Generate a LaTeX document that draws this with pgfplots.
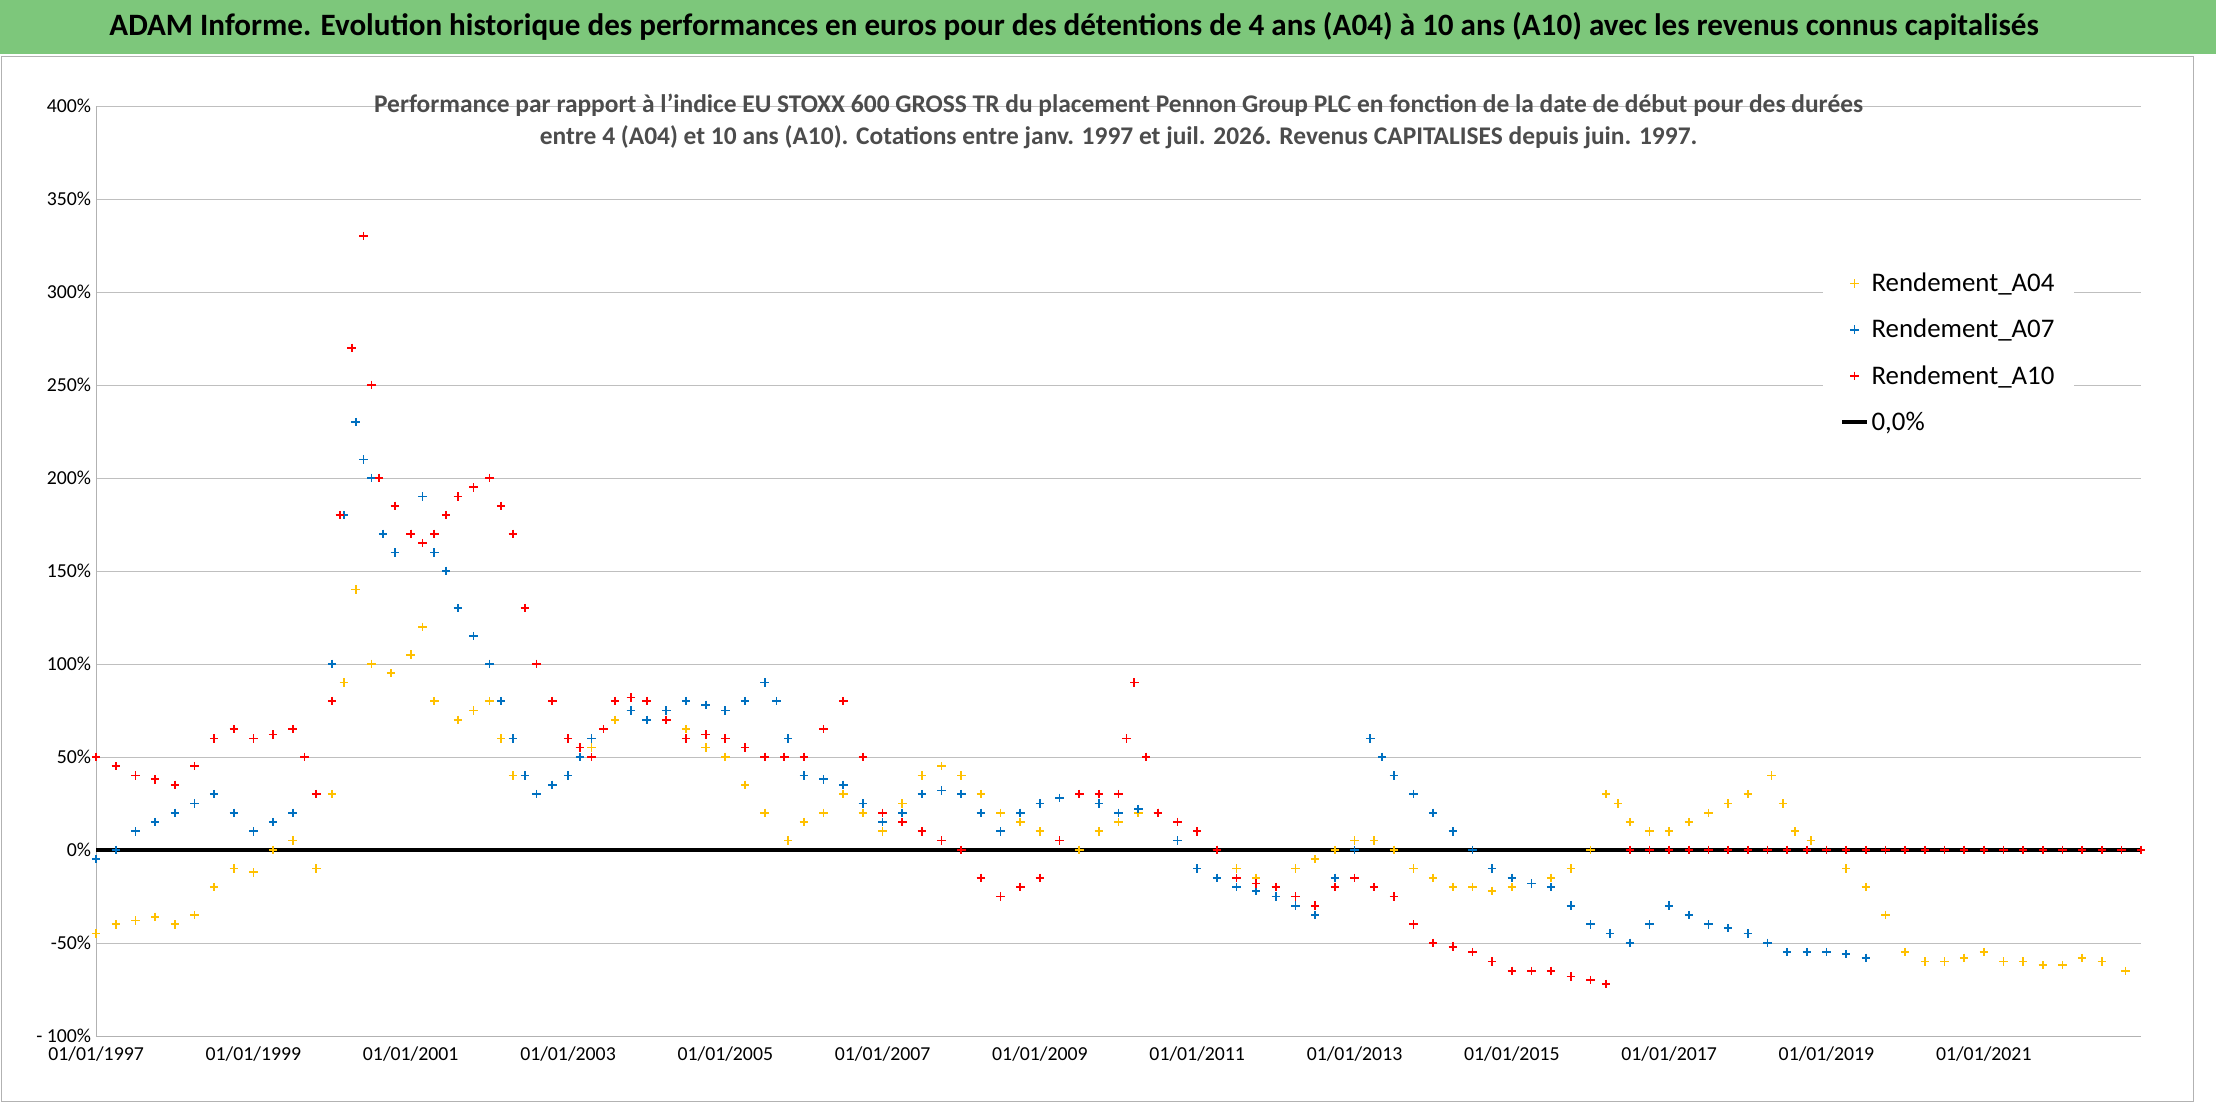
\documentclass[border=0pt]{standalone}
\usepackage{pgfplots}
\pgfplotsset{compat=1.18}
\usepackage{fontspec}
\setmainfont{Carlito}
\definecolor{ttl}{HTML}{7DC77B}
\definecolor{yel}{HTML}{FFC000}
\definecolor{blu}{HTML}{0070C0}
\definecolor{rd}{HTML}{FF0000}
\begin{document}
\begin{tikzpicture}[x=1pt,y=1pt]
\useasboundingbox (0,0) rectangle (1568,780);
\fill[ttl] (0,742) rectangle (1568,780);
\node[font=\fontsize{22}{26}\selectfont\bfseries] at (760,761) {ADAM Informe. Evolution historique des performances en euros pour des détentions de 4 ans (A04) à 10 ans (A10) avec les revenus connus capitalisés};
\draw[gray!60] (1,1) rectangle (1552,740);
\begin{axis}[at={(68pt,47pt)},anchor=south west,scale only axis,width=1447pt,height=658pt,
 xmin=1997,xmax=2023,ymin=-100,ymax=400,
 xtick={1997,1999,...,2021},
 xticklabels={01/01/1997,01/01/1999,01/01/2001,01/01/2003,01/01/2005,01/01/2007,01/01/2009,01/01/2011,01/01/2013,01/01/2015,01/01/2017,01/01/2019,01/01/2021},
 ytick={-100,-50,...,400},
 yticklabels={- 100\%,-50\%,0\%,50\%,100\%,150\%,200\%,250\%,300\%,350\%,400\%},
 ymajorgrids, grid style={gray!50},
 axis line style={gray!60}, tick style={draw=none},
 ticklabel style={font=\fontsize{14}{16}\selectfont},
 xticklabel style={yshift=-4pt},
 axis x line*=bottom, axis y line*=left,
 legend style={at={(1290pt-68pt,460pt-47pt)},anchor=south west,draw=none,fill=white,font=\fontsize{19}{22}\selectfont,row sep=14pt,inner sep=12pt},
 legend cell align=left,
 every axis plot/.append style={only marks,mark=+,mark size=3pt,line width=1.2pt},
 title style={font=\fontsize{18}{23}\selectfont\bfseries,color=black!70,align=center,yshift=-40pt},
 title={Performance par rapport à l'indice EU STOXX 600 GROSS TR  du placement Pennon Group PLC en fonction de la date de début pour des durées\\entre 4 (A04) et 10 ans (A10). Cotations entre janv. 1997 et juil. 2026. Revenus CAPITALISES depuis juin. 1997.}]
\addplot[yel] coordinates {(1997,-45)(1997.25,-40)(1997.5,-38)(1997.75,-36)(1998,-40)(1998.25,-35)(1998.5,-20)(1998.75,-10)(1999,-12)(1999.25,0)(1999.5,5)(1999.8,-10)(2000,30)(2000.15,90)(2000.3,140)(2000.5,100)(2000.75,95)(2001,105)(2001.15,120)(2001.3,80)(2001.6,70)(2001.8,75)(2002,80)(2002.15,60)(2002.3,40)(2002.6,30)(2002.8,35)(2003,40)(2003.3,55)(2003.6,70)(2003.8,75)(2004,80)(2004.25,70)(2004.5,65)(2004.75,55)(2005,50)(2005.25,35)(2005.5,20)(2005.8,5)(2006,15)(2006.25,20)(2006.5,30)(2006.75,20)(2007,10)(2007.25,25)(2007.5,40)(2007.75,45)(2008,40)(2008.25,30)(2008.5,20)(2008.75,15)(2009,10)(2009.25,5)(2009.5,0)(2009.75,10)(2010,15)(2010.25,20)(2010.5,20)(2010.75,15)(2011,10)(2011.25,0)(2011.5,-10)(2011.75,-15)(2012,-20)(2012.25,-10)(2012.5,-5)(2012.75,0)(2013,5)(2013.25,5)(2013.5,0)(2013.75,-10)(2014,-15)(2014.25,-20)(2014.5,-20)(2014.75,-22)(2015,-20)(2015.25,-18)(2015.5,-15)(2015.75,-10)(2016,0)(2016.2,30)(2016.35,25)(2016.5,15)(2016.75,10)(2017,10)(2017.25,15)(2017.5,20)(2017.75,25)(2018,30)(2018.3,40)(2018.45,25)(2018.6,10)(2018.8,5)(2019,0)(2019.25,-10)(2019.5,-20)(2019.75,-35)(2020,-55)(2020.25,-60)(2020.5,-60)(2020.75,-58)(2021,-55)(2021.25,-60)(2021.5,-60)(2021.75,-62)(2022,-62)(2022.25,-58)(2022.5,-60)(2022.8,-65)};
\addlegendentry{Rendement\_A04}
\addplot[blu] coordinates {(1997,-5)(1997.25,0)(1997.5,10)(1997.75,15)(1998,20)(1998.25,25)(1998.5,30)(1998.75,20)(1999,10)(1999.25,15)(1999.5,20)(1999.8,30)(2000,100)(2000.15,180)(2000.3,230)(2000.4,210)(2000.5,200)(2000.65,170)(2000.8,160)(2001,170)(2001.15,190)(2001.3,160)(2001.45,150)(2001.6,130)(2001.8,115)(2002,100)(2002.15,80)(2002.3,60)(2002.45,40)(2002.6,30)(2002.8,35)(2003,40)(2003.15,50)(2003.3,60)(2003.6,80)(2003.8,75)(2004,70)(2004.25,75)(2004.5,80)(2004.75,78)(2005,75)(2005.25,80)(2005.5,90)(2005.65,80)(2005.8,60)(2006,40)(2006.25,38)(2006.5,35)(2006.75,25)(2007,15)(2007.25,20)(2007.5,30)(2007.75,32)(2008,30)(2008.25,20)(2008.5,10)(2008.75,20)(2009,25)(2009.25,28)(2009.5,30)(2009.75,25)(2010,20)(2010.25,22)(2010.5,20)(2010.75,5)(2011,-10)(2011.25,-15)(2011.5,-20)(2011.75,-22)(2012,-25)(2012.25,-30)(2012.5,-35)(2012.75,-15)(2013,0)(2013.2,60)(2013.35,50)(2013.5,40)(2013.75,30)(2014,20)(2014.25,10)(2014.5,0)(2014.75,-10)(2015,-15)(2015.25,-18)(2015.5,-20)(2015.75,-30)(2016,-40)(2016.25,-45)(2016.5,-50)(2016.75,-40)(2017,-30)(2017.25,-35)(2017.5,-40)(2017.75,-42)(2018,-45)(2018.25,-50)(2018.5,-55)(2018.75,-55)(2019,-55)(2019.25,-56)(2019.5,-58)};
\addlegendentry{Rendement\_A07}
\addplot[rd] coordinates {(1997,50)(1997.25,45)(1997.5,40)(1997.75,38)(1998,35)(1998.25,45)(1998.5,60)(1998.75,65)(1999,60)(1999.25,62)(1999.5,65)(1999.65,50)(1999.8,30)(2000,80)(2000.1,180)(2000.25,270)(2000.4,330)(2000.5,250)(2000.6,200)(2000.8,185)(2001,170)(2001.15,165)(2001.3,170)(2001.45,180)(2001.6,190)(2001.8,195)(2002,200)(2002.15,185)(2002.3,170)(2002.45,130)(2002.6,100)(2002.8,80)(2003,60)(2003.15,55)(2003.3,50)(2003.45,65)(2003.6,80)(2003.8,82)(2004,80)(2004.25,70)(2004.5,60)(2004.75,62)(2005,60)(2005.25,55)(2005.5,50)(2005.75,50)(2006,50)(2006.25,65)(2006.5,80)(2006.75,50)(2007,20)(2007.25,15)(2007.5,10)(2007.75,5)(2008,0)(2008.25,-15)(2008.5,-25)(2008.75,-20)(2009,-15)(2009.25,5)(2009.5,30)(2009.75,30)(2010,30)(2010.1,60)(2010.2,90)(2010.35,50)(2010.5,20)(2010.75,15)(2011,10)(2011.25,0)(2011.5,-15)(2011.75,-18)(2012,-20)(2012.25,-25)(2012.5,-30)(2012.75,-20)(2013,-15)(2013.25,-20)(2013.5,-25)(2013.75,-40)(2014,-50)(2014.25,-52)(2014.5,-55)(2014.75,-60)(2015,-65)(2015.25,-65)(2015.5,-65)(2015.75,-68)(2016,-70)(2016.2,-72)(2016.5,0)(2016.75,0)(2017,0)(2017.25,0)(2017.5,0)(2017.75,0)(2018,0)(2018.25,0)(2018.5,0)(2018.75,0)(2019,0)(2019.25,0)(2019.5,0)(2019.75,0)(2020,0)(2020.25,0)(2020.5,0)(2020.75,0)(2021,0)(2021.25,0)(2021.5,0)(2021.75,0)(2022,0)(2022.25,0)(2022.5,0)(2022.75,0)(2023,0)};
\addlegendentry{Rendement\_A10}
\addplot[black,line width=3pt,no marks,sharp plot] coordinates {(1997,0)(2023,0)};
\addlegendentry{0,0\%}
\end{axis}
\end{tikzpicture}
\end{document}
